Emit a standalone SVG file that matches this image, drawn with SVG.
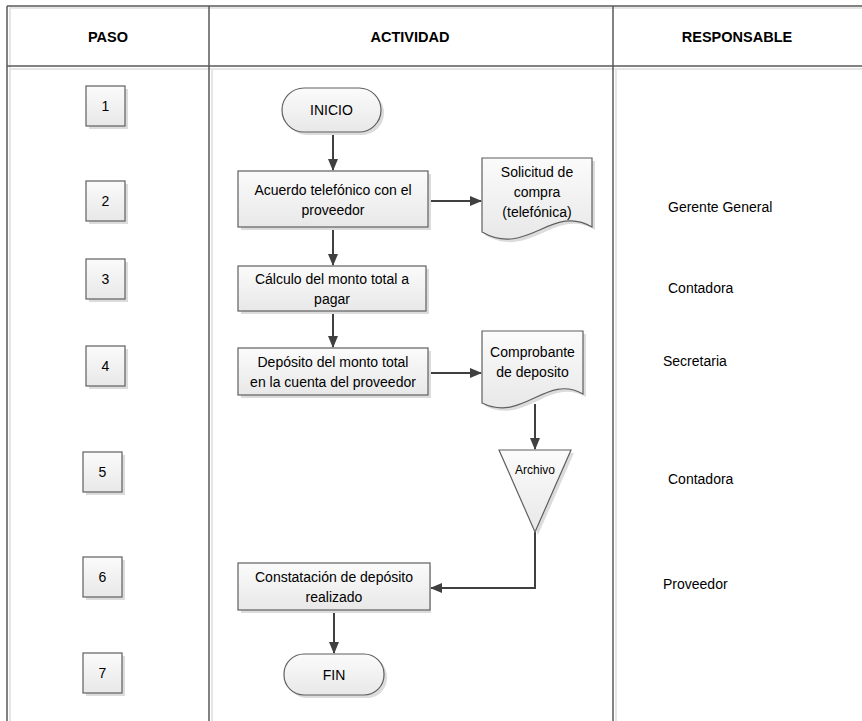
<svg xmlns="http://www.w3.org/2000/svg" width="862" height="721" viewBox="0 0 862 721">
<style>
.grid{stroke:#5a5a5a;stroke-width:1.5;fill:none}
.gsh{stroke:#e6e6e6;stroke-width:2;fill:none}
.shape{fill:url(#g);stroke:#5f5f5f;stroke-width:1.2}
.shadow{fill:#dcdcdc;stroke:none}
.t{font-family:"Liberation Sans",Arial,sans-serif;font-size:14px;fill:#000;text-anchor:middle;dominant-baseline:central}
.r{font-family:"Liberation Sans",Arial,sans-serif;font-size:14px;fill:#000;dominant-baseline:central}
.h{font-family:"Liberation Sans",Arial,sans-serif;font-size:14.5px;font-weight:bold;fill:#000;text-anchor:middle;dominant-baseline:central}
.c{stroke:#404040;stroke-width:2;fill:none;marker-end:url(#a)}
</style>
<defs>
<linearGradient id="g" x1="0" y1="0" x2="0" y2="1">
<stop offset="0" stop-color="#fbfbfb"/>
<stop offset="1" stop-color="#e8e8e8"/>
</linearGradient>
<marker id="a" viewBox="0 0 12 10" refX="11" refY="5" markerWidth="12" markerHeight="10" markerUnits="userSpaceOnUse" orient="auto">
<path d="M0,0 L12,5 L0,10 Z" fill="#404040"/>
</marker>
</defs>
<rect width="862" height="721" fill="#fff"/>
<g id="table">
<path class="gsh" d="M9,8 H862 M9,69 H862 M10,8 V721 M212,69 V721 M616,69 V721"/>
<path class="grid" d="M7,6 H862 M7,66 H862 M7,6 V721 M209,6 V721 M613,6 V721"/>
<text class="h" x="108" y="37">PASO</text>
<text class="h" x="410" y="37">ACTIVIDAD</text>
<text class="h" x="737" y="37">RESPONSABLE</text>
</g>
<g id="pasos">
<g id="paso1"><rect class="shadow" x="89" y="89" width="39" height="40"/><rect class="shape" x="86" y="86" width="39" height="40"/><text class="t" x="105.5" y="106">1</text></g>
<g id="paso2"><rect class="shadow" x="89" y="184" width="39" height="40"/><rect class="shape" x="86" y="181" width="39" height="40"/><text class="t" x="105.5" y="201">2</text></g>
<g id="paso3"><rect class="shadow" x="89" y="262" width="39" height="40"/><rect class="shape" x="86" y="259" width="39" height="40"/><text class="t" x="105.5" y="279">3</text></g>
<g id="paso4"><rect class="shadow" x="89" y="349" width="39" height="40"/><rect class="shape" x="86" y="346" width="39" height="40"/><text class="t" x="105.5" y="366">4</text></g>
<g id="paso5"><rect class="shadow" x="86" y="455" width="39" height="40"/><rect class="shape" x="83" y="452" width="39" height="40"/><text class="t" x="102.5" y="472">5</text></g>
<g id="paso6"><rect class="shadow" x="86" y="560" width="39" height="40"/><rect class="shape" x="83" y="557" width="39" height="40"/><text class="t" x="102.5" y="577">6</text></g>
<g id="paso7"><rect class="shadow" x="86" y="656" width="39" height="40"/><rect class="shape" x="83" y="653" width="39" height="40"/><text class="t" x="102.5" y="673">7</text></g>
</g>
<g id="responsables">
<text class="r" x="668" y="207">Gerente General</text>
<text class="r" x="668" y="288">Contadora</text>
<text class="r" x="663" y="361">Secretaria</text>
<text class="r" x="668" y="479">Contadora</text>
<text class="r" x="663" y="584">Proveedor</text>
</g>
<g id="connectors">
<path class="c" d="M333,132 V170"/>
<path class="c" d="M333,227 V265"/>
<path class="c" d="M333,311 V347"/>
<path class="c" d="M428,201 H481"/>
<path class="c" d="M428,373 H481"/>
<path class="c" d="M535,404 V449"/>
<path class="c" d="M535,532 V588 H431"/>
<path class="c" d="M334,610 V653"/>
</g>
<g id="inicio"><rect class="shadow" x="285" y="91" width="99" height="44" rx="22"/><rect class="shape" x="282" y="88" width="99" height="44" rx="22"/><text class="t" x="331.5" y="110">INICIO</text></g>
<g id="acuerdo"><rect class="shadow" x="241" y="174" width="190" height="56"/><rect class="shape" x="238" y="171" width="190" height="56"/><text class="t" x="333" y="190">Acuerdo telefónico con el</text><text class="t" x="333" y="210">proveedor</text></g>
<g id="solicitud"><path class="shadow" transform="translate(3,3)" d="M482,158 H592 V227 C552,203 527,258 482,232 Z"/><path class="shape" d="M482,158 H592 V227 C552,203 527,258 482,232 Z"/><text class="t" x="537" y="172">Solicitud de</text><text class="t" x="537" y="192">compra</text><text class="t" x="537" y="212">(telefónica)</text></g>
<g id="calculo"><rect class="shadow" x="241" y="269" width="188" height="45"/><rect class="shape" x="238" y="266" width="188" height="45"/><text class="t" x="332" y="279">Cálculo del monto total a</text><text class="t" x="332" y="299">pagar</text></g>
<g id="deposito"><rect class="shadow" x="241" y="351" width="190" height="47"/><rect class="shape" x="238" y="348" width="190" height="47"/><text class="t" x="333" y="362">Depósito del monto total</text><text class="t" x="333" y="382">en la cuenta del proveedor</text></g>
<g id="comprobante"><path class="shadow" transform="translate(3,3)" d="M482,331 H583 V394 C546,373 523,423 482,403 Z"/><path class="shape" d="M482,331 H583 V394 C546,373 523,423 482,403 Z"/><text class="t" x="532.5" y="352">Comprobante</text><text class="t" x="532.5" y="372">de deposito</text></g>
<g id="archivo"><path class="shadow" transform="translate(3,3)" d="M499,450 H571 L535,532 Z"/><path class="shape" d="M499,450 H571 L535,532 Z"/><text class="t" x="535" y="470" style="font-size:12px">Archivo</text></g>
<g id="constatacion"><rect class="shadow" x="241" y="566" width="190" height="47"/><rect class="shape" x="238" y="563" width="192" height="47"/><text class="t" x="334" y="577">Constatación de depósito</text><text class="t" x="334" y="597">realizado</text></g>
<g id="fin"><rect class="shadow" x="287" y="657" width="100" height="41" rx="20"/><rect class="shape" x="284" y="654" width="100" height="41" rx="20"/><text class="t" x="334" y="675">FIN</text></g>
</svg>
